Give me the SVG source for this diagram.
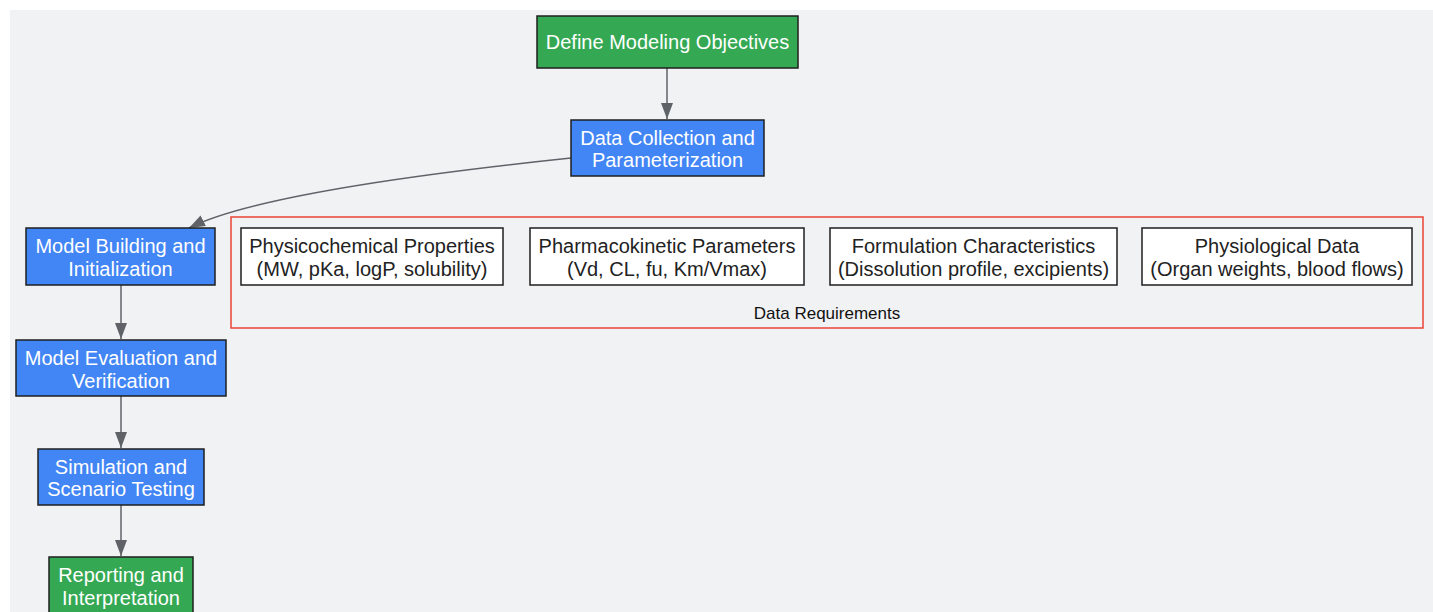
<svg xmlns="http://www.w3.org/2000/svg" width="1433" height="612" viewBox="0 0 1433 612">
<style>
.node rect{stroke:#1f1f1f;stroke-width:1.5}
.green rect{fill:#34a853}
.blue rect{fill:#4285f4}
.white rect{fill:#ffffff}
text{font-family:"Liberation Sans",Arial,sans-serif;font-size:20px;text-anchor:middle}
.green text,.blue text{fill:#ffffff}
.white text{fill:#222222}
.edge{fill:none;stroke:#5f6368;stroke-width:1.5}
</style>
<defs>
<marker id="arr" markerWidth="16" markerHeight="12" refX="16" refY="6" orient="auto" markerUnits="userSpaceOnUse" viewBox="0 0 16 12">
<path d="M0,0 L16,6 L0,12 Z" fill="#5f6368"/>
</marker>
</defs>
<rect x="10" y="10" width="1423" height="602" fill="#f1f2f4"/>
<g id="cluster-data-requirements">
<rect x="231" y="217" width="1192" height="111" fill="none" stroke="#ea4335" stroke-width="1.5"/>
<text x="827" y="319" style="font-size:17px;fill:#111">Data Requirements</text>
</g>
<g id="connectors">
<path class="edge" d="M667,68 L667,119" marker-end="url(#arr)"/>
<path class="edge" d="M571,158 C380,178 240,202 189,228" marker-end="url(#arr)"/>
<path class="edge" d="M121,285 L121,339" marker-end="url(#arr)"/>
<path class="edge" d="M121,396 L121,448" marker-end="url(#arr)"/>
<path class="edge" d="M121,505 L121,556" marker-end="url(#arr)"/>
</g>
<g id="define" class="node green">
<rect x="537" y="16" width="261" height="52"/>
<text x="667.5" y="49">Define Modeling Objectives</text>
</g>
<g id="datacollection" class="node blue">
<rect x="571" y="120" width="193" height="56"/>
<text x="667.5" y="145">Data Collection and</text>
<text x="667.5" y="167">Parameterization</text>
</g>
<g id="modelbuilding" class="node blue">
<rect x="26" y="228" width="189" height="57"/>
<text x="120.5" y="253">Model Building and</text>
<text x="120.5" y="276">Initialization</text>
</g>
<g id="modeleval" class="node blue">
<rect x="16" y="340" width="210" height="56"/>
<text x="121" y="365">Model Evaluation and</text>
<text x="121" y="388">Verification</text>
</g>
<g id="simulation" class="node blue">
<rect x="38" y="449" width="166" height="56"/>
<text x="121" y="474">Simulation and</text>
<text x="121" y="496">Scenario Testing</text>
</g>
<g id="reporting" class="node green">
<rect x="49" y="557" width="144" height="60"/>
<text x="121" y="582">Reporting and</text>
<text x="121" y="605">Interpretation</text>
</g>
<g id="physchem" class="node white">
<rect x="241" y="228" width="262" height="57"/>
<text x="372" y="253">Physicochemical Properties</text>
<text x="372" y="276">(MW, pKa, logP, solubility)</text>
</g>
<g id="pk" class="node white">
<rect x="530" y="228" width="274" height="57"/>
<text x="667" y="253">Pharmacokinetic Parameters</text>
<text x="667" y="276">(Vd, CL, fu, Km/Vmax)</text>
</g>
<g id="formulation" class="node white">
<rect x="830" y="228" width="287" height="57"/>
<text x="973.5" y="253">Formulation Characteristics</text>
<text x="973.5" y="276">(Dissolution profile, excipients)</text>
</g>
<g id="physiological" class="node white">
<rect x="1142" y="228" width="270" height="57"/>
<text x="1277" y="253">Physiological Data</text>
<text x="1277" y="276">(Organ weights, blood flows)</text>
</g>
</svg>
